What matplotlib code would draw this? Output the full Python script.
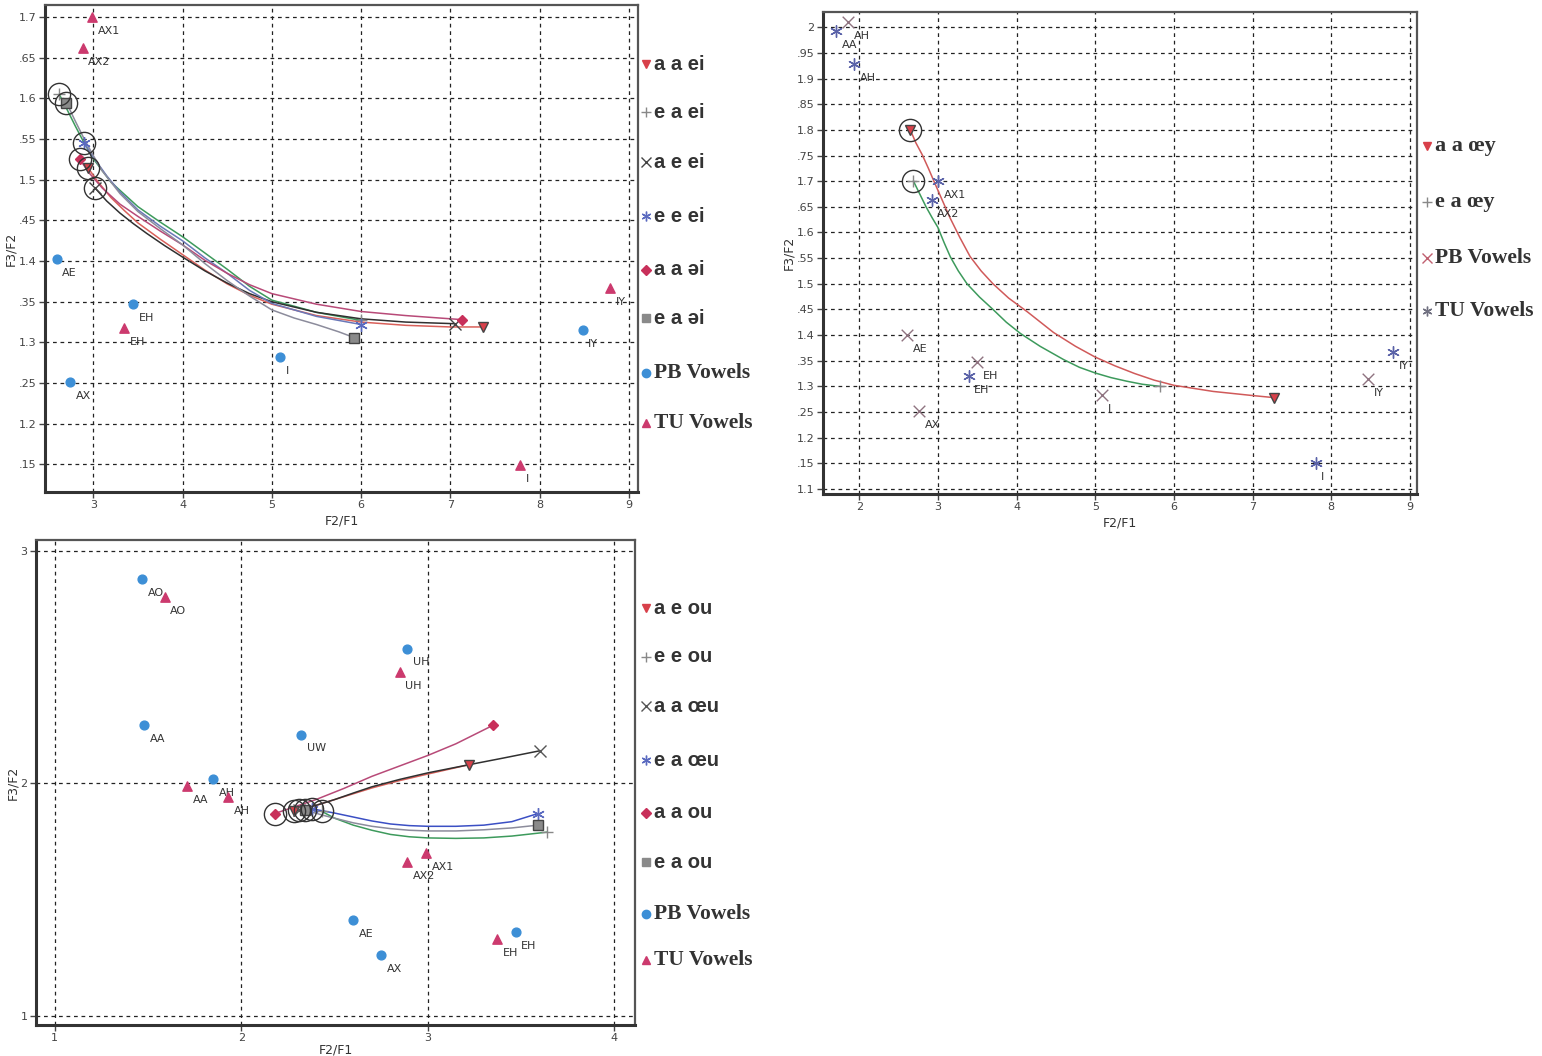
import matplotlib
matplotlib.use('Agg')
import matplotlib.pyplot as plt
from matplotlib.lines import Line2D

W, H = 1542, 1056

# ---------------- datos: panel 1 (ei / əi) ----------------
p1_pb_names = ['AE', 'EH', 'AX', 'I', 'IY']
p1_pb_x = [2.59, 3.45, 2.74, 5.09, 8.48]
p1_pb_y = [1.402, 1.347, 1.251, 1.282, 1.315]

p1_tu_names = ['AX1', 'AX2', 'EH', 'I', 'IY']
p1_tu_x = [2.99, 2.88, 3.35, 7.78, 8.79]
p1_tu_y = [1.700, 1.662, 1.318, 1.149, 1.367]

p1_labels = ['a a ei', 'e a ei', 'a e ei', 'e e ei', 'a a əi', 'e a əi']
p1_curves_x = [
    [2.94, 3.05, 3.2, 3.35, 3.5, 3.75, 4.0, 4.25, 4.5, 4.75, 5.0, 5.5, 6.0, 6.5, 7.0, 7.36],
    [2.62, 2.7, 2.8, 2.9, 3.0, 3.2, 3.5, 3.75, 4.0, 4.25, 4.5, 4.75, 5.0, 5.5, 6.0],
    [3.02, 3.15, 3.3, 3.45, 3.6, 3.8, 4.0, 4.25, 4.5, 4.75, 5.0, 5.5, 6.0, 6.5, 7.05],
    [2.90, 3.0, 3.15, 3.3, 3.5, 3.75, 4.0, 4.25, 4.5, 4.75, 5.0, 5.5, 6.0],
    [2.85, 2.95, 3.1, 3.3, 3.5, 3.75, 4.0, 4.25, 4.5, 4.75, 5.0, 5.5, 6.0, 6.5, 7.13],
    [2.70, 2.8, 2.9, 3.0, 3.1, 3.3, 3.5, 3.75, 4.0, 4.25, 4.5, 4.75, 5.0, 5.25, 5.5, 5.75, 5.92],
]
p1_curves_y = [
    [1.515, 1.498, 1.478, 1.462, 1.447, 1.427, 1.408, 1.389, 1.372, 1.358, 1.347, 1.333, 1.325, 1.321, 1.319, 1.319],
    [1.605, 1.588, 1.566, 1.545, 1.526, 1.497, 1.467, 1.448, 1.430, 1.410, 1.390, 1.369, 1.352, 1.337, 1.327],
    [1.490, 1.474, 1.459, 1.446, 1.434, 1.419, 1.405, 1.388, 1.373, 1.360, 1.350, 1.337, 1.329, 1.325, 1.323],
    [1.545, 1.528, 1.505, 1.485, 1.463, 1.443, 1.425, 1.404, 1.385, 1.364, 1.348, 1.332, 1.322],
    [1.525, 1.509, 1.490, 1.470, 1.455, 1.437, 1.420, 1.401, 1.385, 1.371, 1.360, 1.347, 1.338, 1.333, 1.328],
    [1.595, 1.572, 1.550, 1.530, 1.511, 1.483, 1.461, 1.440, 1.420, 1.397, 1.376, 1.357, 1.340, 1.330, 1.322, 1.313, 1.306],
]

# ---------------- datos: panel 2 (œy) ----------------
p2_pb_names = ['AH', 'AE', 'EH', 'AX', 'I', 'IY']
p2_pb_x = [1.86, 2.61, 3.50, 2.76, 5.09, 8.47]
p2_pb_y = [2.010, 1.400, 1.348, 1.252, 1.283, 1.315]

p2_tu_names = ['AA', 'AH', 'AX1', 'AX2', 'EH', 'I', 'IY']
p2_tu_x = [1.71, 1.94, 3.00, 2.92, 3.39, 7.80, 8.79]
p2_tu_y = [1.992, 1.928, 1.700, 1.664, 1.320, 1.150, 1.367]

p2_labels = ['a a œy', 'e a œy']
p2_curves_x = [
    [2.65, 2.72, 2.8, 2.88, 2.95, 3.05, 3.15, 3.28, 3.41, 3.55, 3.7, 3.9, 4.14, 4.47,
     4.75, 5.0, 5.25, 5.5, 5.75, 6.0, 6.5, 7.0, 7.27],
    [2.69, 2.77, 2.85, 2.93, 3.0, 3.08, 3.16, 3.26, 3.37, 3.53, 3.7, 3.87, 4.05, 4.3,
     4.6, 4.8, 5.0, 5.2, 5.4, 5.6, 5.82],
]
p2_curves_y = [
    [1.800, 1.775, 1.752, 1.725, 1.700, 1.665, 1.630, 1.590, 1.553, 1.525, 1.500, 1.472,
     1.445, 1.405, 1.378, 1.357, 1.340, 1.325, 1.312, 1.302, 1.290, 1.282, 1.278],
    [1.700, 1.675, 1.650, 1.628, 1.610, 1.580, 1.552, 1.525, 1.500, 1.474, 1.450, 1.425,
     1.403, 1.378, 1.352, 1.337, 1.326, 1.317, 1.310, 1.304, 1.300],
]

# ---------------- datos: panel 3 (ou / œu) ----------------
p3_pb_names = ['AO', 'AA', 'UW', 'AH', 'UH', 'AE', 'AX', 'EH']
p3_pb_x = [1.47, 1.48, 2.32, 1.85, 2.89, 2.60, 2.75, 3.47]
p3_pb_y = [2.88, 2.25, 2.21, 2.02, 2.58, 1.41, 1.26, 1.36]

p3_tu_names = ['AO', 'AA', 'AH', 'UH', 'AX1', 'AX2', 'EH']
p3_tu_x = [1.59, 1.71, 1.93, 2.85, 2.99, 2.89, 3.37]
p3_tu_y = [2.80, 1.99, 1.94, 2.48, 1.70, 1.66, 1.33]

p3_labels = ['a e ou', 'e e ou', 'a a œu', 'e a œu', 'a a ou', 'e a ou']
p3_curves_x = [
    [2.28, 2.4, 2.5, 2.6, 2.7, 2.85, 3.0, 3.22],
    [2.43, 2.5, 2.6, 2.7, 2.8, 2.9, 3.0, 3.15, 3.3, 3.45, 3.64],
    [2.31, 2.4, 2.5, 2.6, 2.7, 2.85, 3.0, 3.22, 3.4, 3.6],
    [2.38, 2.5, 2.6, 2.7, 2.8, 2.9, 3.0, 3.15, 3.3, 3.45, 3.59],
    [2.18, 2.3, 2.4, 2.55, 2.7, 2.85, 3.0, 3.15, 3.35],
    [2.34, 2.45, 2.6, 2.7, 2.8, 2.9, 3.0, 3.15, 3.3, 3.45, 3.59],
]
p3_curves_y = [
    [1.880, 1.905, 1.930, 1.955, 1.980, 2.012, 2.040, 2.080],
    [1.880, 1.850, 1.820, 1.798, 1.780, 1.770, 1.765, 1.763, 1.765, 1.773, 1.790],
    [1.885, 1.905, 1.930, 1.958, 1.985, 2.017, 2.045, 2.080, 2.108, 2.140],
    [1.890, 1.872, 1.855, 1.838, 1.825, 1.818, 1.815, 1.815, 1.820, 1.835, 1.870],
    [1.870, 1.903, 1.930, 1.978, 2.030, 2.075, 2.120, 2.170, 2.250],
    [1.885, 1.860, 1.830, 1.815, 1.805, 1.798, 1.795, 1.795, 1.800, 1.808, 1.820],
]

# ---------------- estilos ----------------
PB_COL = '#3d8fd6'
TU_COL = '#cc3a6e'
GRID_COL = '#222222'
AST = (6, 2, 0)  # asterisco de 6 brazos

# marcador, color marcador, color linea (orden de las etiquetas)
p1_styles = [('v', '#d8404a', '#d9605a'), ('+', '#888888', '#3d9a5c'),
             ('x', '#444444', '#303030'), (AST, '#5a6ac0', '#6a78b8'),
             ('D', '#c8305a', '#b84a78'), ('s', '#8a8a8a', '#8c8c9c')]
p2_styles = [('v', '#d8404a', '#d05a5a'), ('+', '#888888', '#3d9a5c')]
p3_styles = [('v', '#d8404a', '#d9605a'), ('+', '#888888', '#3d9a5c'),
             ('x', '#555555', '#303030'), (AST, '#5a6ac0', '#3b4fc4'),
             ('D', '#c8305a', '#b84a78'), ('s', '#8a8a8a', '#8c8c9c')]

fig = plt.figure(figsize=(W / 100, H / 100), dpi=100)


def thin(m):
    return m in ('x', '+') or m == AST


def px_axes(l, t, r, b):
    return fig.add_axes([l / W, 1 - b / H, (r - l) / W, (b - t) / H])


def style_axes(ax, xlim, ylim, xt, yt, ylabels, xpad=3):
    ax.set_xlim(*xlim)
    ax.set_ylim(*ylim)
    ax.set_xticks(xt)
    ax.set_xticklabels([str(v) for v in xt])
    ax.set_yticks(yt)
    ax.set_yticklabels(ylabels)
    ax.tick_params(labelsize=8, labelcolor='#444444', color='#444444',
                   length=4, width=1, direction='out', pad=2)
    ax.grid(True, color=GRID_COL, linestyle=(0, (3, 3)), linewidth=0.9)
    for s in ['left', 'bottom']:
        ax.spines[s].set_linewidth(2.2)
        ax.spines[s].set_color('#333333')
    for s in ['top', 'right']:
        ax.spines[s].set_linewidth(1.6)
        ax.spines[s].set_color('#555555')
    ax.set_xlabel('F2/F1', fontsize=9, color='#333333', labelpad=xpad)
    ax.set_ylabel('F3/F2', fontsize=9, color='#333333', labelpad=1)


def label_points(ax, names, xs, ys):
    for n, x, y in zip(names, xs, ys):
        ax.annotate(n, (x, y), xytext=(4, -10), textcoords='offset points',
                    fontsize=8, color='#333333', ha='left', va='center')


def draw_curves(ax, cx, cy, styles):
    for xs, ys, (m, mc, lc) in zip(cx, cy, styles):
        ax.plot(xs, ys, color=lc, lw=1.1, zorder=3)
        ms = 9 if thin(m) else (5 if m == 'D' else 6.5)
        ax.plot([xs[0], xs[-1]], [ys[0], ys[-1]], ls='none', marker=m,
                ms=ms, color=mc, mec='#444444' if m in ('s', 'v') else mc,
                mew=1.0, zorder=4)
        ax.plot([xs[0]], [ys[0]], ls='none', marker='o', ms=16, mfc='none',
                mec='#333333', mew=1.0, zorder=5)


def legend(x_px, ys_px, entries):
    for y, (m, c, txt, fam, fs) in zip(ys_px, entries):
        ms = 7 if thin(m) else (5 if m == 'D' else 6)
        fig.add_artist(Line2D([x_px / W], [1 - y / H], transform=fig.transFigure,
                              marker=m, color=c, ms=ms, ls='none', mew=1.0))
        fig.text((x_px + 8) / W, 1 - y / H, txt, fontsize=fs, fontweight='bold',
                 family=fam, color='#333333', va='center', ha='left')


SANS = ['Liberation Sans', 'DejaVu Sans']
SERIF = ['Liberation Serif', 'DejaVu Serif']

# ---------------- panel 1 ----------------
ax1 = px_axes(45, 5, 638, 492)
y1 = [1.15, 1.2, 1.25, 1.3, 1.35, 1.4, 1.45, 1.5, 1.55, 1.6, 1.65, 1.7]
y1_lab = ['.15', '1.2', '.25', '1.3', '.35', '1.4', '.45', '1.5', '.55', '1.6', '.65', '1.7']
style_axes(ax1, (2.46, 9.1), (1.116, 1.715), [3, 4, 5, 6, 7, 8, 9], y1, y1_lab)
draw_curves(ax1, p1_curves_x, p1_curves_y, p1_styles)
ax1.scatter(p1_pb_x, p1_pb_y, s=40, color=PB_COL, zorder=4)
ax1.scatter(p1_tu_x, p1_tu_y, s=45, marker='^', color=TU_COL, zorder=4)
label_points(ax1, p1_pb_names, p1_pb_x, p1_pb_y)
label_points(ax1, p1_tu_names, p1_tu_x, p1_tu_y)
legend(646, [64, 112, 162, 216, 270, 318, 373, 423],
       [(m, mc, t, SANS, 14.5) for (m, mc, _), t in zip(p1_styles, p1_labels)] +
       [('o', PB_COL, 'PB Vowels', SERIF, 15.5), ('^', TU_COL, 'TU Vowels', SERIF, 15.5)])

# ---------------- panel 2 ----------------
ax2 = px_axes(823, 12, 1417, 494)
y2 = [1.1 + 0.05 * i for i in range(19)]
y2_lab = ['1.1', '.15', '1.2', '.25', '1.3', '.35', '1.4', '.45', '1.5', '.55',
          '1.6', '.65', '1.7', '.75', '1.8', '.85', '1.9', '.95', '2']
style_axes(ax2, (1.54, 9.09), (1.09, 2.03), [2, 3, 4, 5, 6, 7, 8, 9], y2, y2_lab)
draw_curves(ax2, p2_curves_x, p2_curves_y, p2_styles)
ax2.scatter(p2_pb_x, p2_pb_y, s=70, marker='x', color='#8f7380', linewidths=1.0, zorder=4)
ax2.scatter(p2_tu_x, p2_tu_y, s=70, marker=AST, color='#5a62a8', linewidths=1.0, zorder=4)
label_points(ax2, p2_pb_names, p2_pb_x, p2_pb_y)
label_points(ax2, p2_tu_names, p2_tu_x, p2_tu_y)
legend(1427, [146, 202, 258, 311],
       [(m, mc, t, SERIF, 16) for (m, mc, _), t in zip(p2_styles, p2_labels)] +
       [('x', '#c06070', 'PB Vowels', SERIF, 15.5), (AST, '#707080', 'TU Vowels', SERIF, 15.5)])

# ---------------- panel 3 ----------------
ax3 = px_axes(36, 540, 635, 1025)
style_axes(ax3, (0.90, 4.11), (0.96, 3.047), [1, 2, 3, 4], [1, 2, 3], ['1', '2', '3'], xpad=0)
draw_curves(ax3, p3_curves_x, p3_curves_y, p3_styles)
ax3.scatter(p3_pb_x, p3_pb_y, s=40, color=PB_COL, zorder=4)
ax3.scatter(p3_tu_x, p3_tu_y, s=45, marker='^', color=TU_COL, zorder=4)
label_points(ax3, p3_pb_names, p3_pb_x, p3_pb_y)
label_points(ax3, p3_tu_names, p3_tu_x, p3_tu_y)
legend(646, [608, 657, 706, 760, 813, 862, 914, 960],
       [(m, mc, t, SANS, 14.5) for (m, mc, _), t in zip(p3_styles, p3_labels)] +
       [('o', PB_COL, 'PB Vowels', SERIF, 15.5), ('^', TU_COL, 'TU Vowels', SERIF, 15.5)])

fig.savefig('out.png', dpi=100)
